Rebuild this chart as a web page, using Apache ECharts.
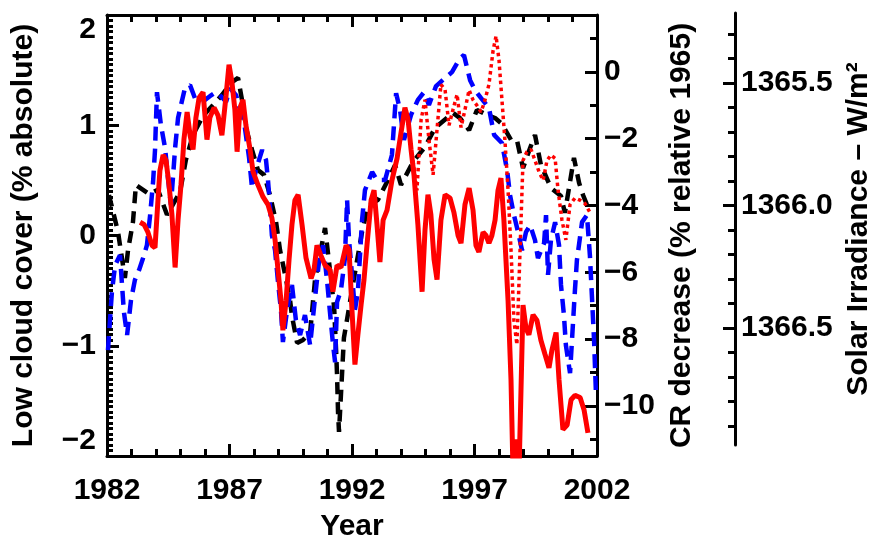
<!DOCTYPE html>
<html><head><meta charset="utf-8">
<script src="https://cdn.jsdelivr.net/npm/echarts@6/dist/echarts.min.js"></script>
<style>html,body{margin:0;padding:0;background:#fff}#c{width:869px;height:536px}</style>
</head><body><div id="c"></div>
<script>
// ---- tick labels ----
const yearTicks = [1982, 1987, 1992, 1997, 2002];
const cloudTicks = [-2, -1, 0, 1, 2];
const crTicks = [0, -2, -4, -6, -8, -10];
const solarTicks = [1365.5, 1366.0, 1366.5];

// ---- low cloud cover (red solid, % absolute) ----
const cloudYears = [1983.35,1983.51,1983.67,1983.84,1983.96,1984.08,1984.16,1984.29,1984.41,1984.53,
1984.65,1984.78,1984.90,1985.02,1985.14,1985.27,1985.39,1985.51,1985.63,1985.76,
1985.92,1986.08,1986.20,1986.37,1986.53,1986.69,1986.86,1986.98,1987.10,1987.22,
1987.31,1987.43,1987.55,1987.67,1987.84,1987.96,1988.16,1988.37,1988.57,1988.73,
1988.86,1988.98,1989.10,1989.18,1989.31,1989.43,1989.55,1989.67,1989.80,1989.96,
1990.12,1990.33,1990.45,1990.57,1990.73,1990.90,1991.10,1991.22,1991.39,1991.55,
1991.76,1991.88,1992.00,1992.12,1992.24,1992.37,1992.49,1992.61,1992.78,1992.90,
1993.02,1993.14,1993.27,1993.43,1993.63,1993.84,1994.00,1994.16,1994.29,1994.41,
1994.53,1994.69,1994.86,1994.98,1995.10,1995.22,1995.35,1995.47,1995.63,1995.80,
1996.00,1996.16,1996.33,1996.45,1996.61,1996.78,1996.94,1997.06,1997.18,1997.35,
1997.47,1997.59,1997.71,1997.84,1997.96,1998.08,1998.20,1998.37,1998.49,1998.57,
1998.69,1998.82,1998.98,1999.10,1999.22,1999.39,1999.55,1999.71,1999.88,2000.04,
2000.16,2000.33,2000.45,2000.61,2000.78,2000.94,2001.10,2001.31,2001.47,2001.63];
const cloudValues = [0.12,0.10,0.03,-0.09,-0.11,0.32,0.59,0.73,0.68,0.46,
0.19,-0.29,0.14,0.46,0.87,1.12,0.91,0.78,1.07,1.25,
1.30,0.87,1.07,1.16,1.09,0.91,1.27,1.55,1.39,1.14,
0.76,1.16,1.23,1.00,0.78,0.58,0.46,0.35,0.28,0.16,
-0.04,-0.31,-0.59,-0.86,-0.59,-0.22,0.10,0.32,0.37,0.10,
-0.20,-0.39,-0.31,-0.09,-0.18,-0.27,-0.31,-0.51,-0.27,-0.29,
-0.09,-0.13,-0.68,-1.17,-0.90,-0.63,-0.40,-0.09,0.32,0.41,
0.10,-0.24,0.14,0.23,0.50,0.70,0.93,1.16,1.05,0.78,
0.55,0.10,-0.51,0.05,0.37,0.19,-0.22,-0.40,0.14,0.37,
0.34,0.21,0.00,-0.07,0.28,0.43,0.23,-0.09,-0.15,0.03,
0.00,-0.07,0.00,0.14,0.41,0.52,0.14,-0.59,-1.31,-2.13,
-1.85,-2.13,-0.63,-0.84,-0.90,-0.72,-0.77,-0.95,-1.08,-1.20,
-1.04,-0.88,-1.31,-1.76,-1.72,-1.49,-1.45,-1.47,-1.58,-1.79];

// ---- low cloud cover, corrected (red dotted) ----
const cloudCorrYears = [1994.49,1994.65,1994.82,1994.98,1995.14,1995.31,1995.47,1995.63,1995.80,1995.96,
1996.12,1996.29,1996.45,1996.61,1996.78,1996.94,1997.10,1997.27,1997.43,1997.59,
1997.76,1997.88,1998.00,1998.12,1998.24,1998.37,1998.49,1998.61,1998.73,1998.86,
1998.98,1999.14,1999.31,1999.47,1999.63,1999.80,1999.96,2000.12,2000.29,2000.41,
2000.57,2000.73,2000.90,2001.10,2001.31,2001.51,2001.71];
const cloudCorrValues = [0.68,0.41,1.05,1.23,0.87,0.55,0.96,1.37,1.32,1.00,
1.14,1.28,0.98,1.14,1.32,1.23,1.18,1.12,1.23,1.37,
1.68,1.81,1.59,1.23,0.87,0.41,-0.13,-0.77,-0.99,-0.13,
0.68,0.76,0.78,0.68,0.58,0.50,0.68,0.73,0.70,0.41,
0.14,-0.04,0.28,0.34,0.32,0.29,0.21];

// ---- cosmic ray decrease (blue dashed, % relative 1965) ----
const crYears = [1982.04,1982.20,1982.33,1982.53,1982.69,1982.82,1982.98,1983.14,1983.31,1983.47,
1983.63,1983.76,1983.88,1983.96,1984.00,1984.04,1984.20,1984.37,1984.49,1984.61,
1984.78,1984.90,1985.18,1985.39,1985.59,1985.80,1986.00,1986.20,1986.45,1986.69,
1986.86,1987.02,1987.27,1987.43,1987.63,1987.80,1987.92,1988.08,1988.33,1988.49,
1988.57,1988.65,1988.73,1988.86,1988.98,1989.10,1989.18,1989.35,1989.55,1989.71,
1989.88,1990.08,1990.29,1990.49,1990.65,1990.82,1990.98,1991.10,1991.22,1991.31,
1991.39,1991.55,1991.71,1991.80,1991.88,1992.00,1992.12,1992.24,1992.41,1992.53,
1992.82,1993.02,1993.35,1993.63,1993.80,1993.96,1994.12,1994.41,1994.69,1994.94,
1995.14,1995.43,1995.84,1996.08,1996.41,1996.57,1996.82,1997.02,1997.27,1997.59,
1997.80,1998.12,1998.33,1998.45,1998.61,1998.78,1998.94,1999.10,1999.27,1999.47,
1999.59,1999.84,1999.92,2000.00,2000.12,2000.29,2000.45,2000.53,2000.65,2000.73,
2000.90,2001.10,2001.18,2001.39,2001.59,2001.71,2001.80,2001.88,2001.96];
const crValues = [-8.33,-6.59,-5.79,-5.49,-7.19,-7.88,-6.83,-6.23,-5.93,-5.58,
-5.19,-4.29,-3.30,-2.34,-1.44,-0.61,-1.59,-2.28,-3.18,-3.99,
-2.28,-1.38,-0.49,-0.40,-0.79,-0.90,-0.84,-0.73,-0.61,-0.76,
-0.90,-0.49,-0.70,-1.14,-1.68,-2.58,-3.48,-2.94,-2.34,-2.64,
-3.24,-3.99,-4.89,-5.34,-6.29,-7.13,-8.09,-7.13,-6.38,-7.43,
-7.88,-7.28,-8.18,-6.77,-5.70,-5.19,-6.23,-7.19,-8.12,-8.69,
-6.89,-6.53,-5.58,-3.84,-5.04,-6.08,-7.13,-6.59,-4.44,-3.54,
-3.00,-3.24,-3.24,-2.49,-0.64,-1.14,-2.04,-1.29,-0.84,-0.61,
-0.99,-0.43,-0.16,-0.01,0.41,0.50,-0.25,-0.55,-0.79,-1.08,
-1.89,-2.13,-2.94,-3.69,-4.29,-4.80,-5.34,-4.80,-4.59,-5.04,
-5.58,-5.13,-4.29,-6.08,-5.04,-4.50,-5.19,-6.38,-7.28,-8.18,
-9.02,-6.53,-5.64,-4.50,-4.29,-5.49,-6.83,-8.03,-9.68];

// ---- solar irradiance (black dashed, W/m^2, inverted axis) ----
const solarYears = [1982.08,1982.45,1982.73,1982.86,1983.06,1983.18,1983.71,1984.08,1984.45,1984.98,
1985.22,1985.51,1985.92,1986.33,1986.69,1987.10,1987.35,1987.51,1987.67,1987.92,
1988.16,1988.41,1988.65,1988.90,1989.06,1989.27,1989.47,1989.55,1989.76,1990.00,
1990.29,1990.49,1990.90,1991.10,1991.27,1991.35,1991.39,1991.43,1991.47,1991.67,
1992.12,1992.41,1992.65,1993.06,1993.47,1993.76,1994.00,1994.49,1994.98,1995.39,
1996.12,1996.41,1996.78,1997.10,1997.51,1997.84,1998.12,1998.49,1998.73,1998.98,
1999.27,1999.47,1999.71,2000.12,2000.53,2000.69,2001.06,2001.27,2001.43,2001.67];
const solarValues = [1365.957,1366.108,1366.296,1366.181,1366.067,1365.916,1365.953,1365.936,1366.038,1365.945,
1365.814,1365.712,1365.634,1365.590,1365.549,1365.496,1365.479,1365.569,1365.683,1365.773,
1365.855,1365.875,1365.957,1366.067,1366.181,1366.283,1366.385,1366.451,1366.561,1366.549,
1366.520,1366.304,1366.092,1366.263,1366.414,1366.590,1366.692,1366.843,1366.924,1366.541,
1366.275,1366.108,1366.002,1365.977,1365.896,1365.834,1365.916,1365.822,1365.761,1365.683,
1365.622,1365.643,1365.692,1365.610,1365.630,1365.643,1365.667,1365.732,1365.732,1365.847,
1365.765,1365.712,1365.834,1365.928,1365.961,1366.030,1365.806,1365.908,1365.957,1366.018];

// ---- minor tick positions (axis decoration) ----
const crMinor = [-11, -9, -7, -5, -3, -1, 1];
const solarMinor = [1365.3, 1365.4, 1365.6, 1365.7, 1365.8, 1365.9, 1366.1, 1366.2, 1366.3, 1366.4, 1366.6, 1366.7, 1366.8, 1366.9];

const FONT = { fontFamily: 'Liberation Sans', fontWeight: 'bold', fontSize: 30, color: '#000' };
const minus = v => (v < 0 ? '\u2212' + Math.abs(v) : String(v));
const LINE = { color: '#000', width: 3 };
const TICK = { color: '#000', width: 3 };
const MAJ = 12, MIN = 7;
const NOLINE = { show: false, onZero: false };
const pairs = (xs, ys) => xs.map((x, i) => [x, ys[i]]);
const mainRect = { left: 107, right: 272, top: 15, bottom: 80, containLabel: false, outerBoundsMode: 'none' };
const solarRect = { left: 107, right: 134, top: 13, bottom: 91, containLabel: false, outerBoundsMode: 'none' };

const chart = echarts.init(document.getElementById('c'), null, { renderer: 'canvas' });
chart.setOption({
  animation: false,
  backgroundColor: '#fff',
  grid: [mainRect, solarRect, mainRect, solarRect],
  xAxis: [
    // 0: bottom major with labels
    { gridIndex: 0, type: 'value', position: 'bottom', min: 1982, max: 2002, interval: 5,
      axisLine: { show: true, onZero: false, lineStyle: LINE },
      axisTick: { show: true, inside: true, length: MAJ, lineStyle: TICK },
      axisLabel: Object.assign({ show: true, margin: 20, formatter: v => String(v) }, FONT),
      splitLine: { show: false },
      name: 'Year', nameLocation: 'middle', nameGap: 56, nameTextStyle: FONT },
    // 1: top major
    { gridIndex: 0, type: 'value', position: 'top', min: 1982, max: 2002, interval: 5,
      axisLine: { show: true, onZero: false, lineStyle: LINE },
      axisTick: { show: true, inside: true, length: MAJ, lineStyle: TICK },
      axisLabel: { show: false }, splitLine: { show: false } },
    // 2: solar grid hidden x
    { gridIndex: 1, type: 'value', min: 1982, max: 2007.633, show: false },
    // 3: bottom minor
    { gridIndex: 2, type: 'value', position: 'bottom', min: 1982, max: 2002, interval: 1,
      axisLine: NOLINE, axisTick: { show: true, inside: true, length: MIN, lineStyle: TICK },
      axisLabel: { show: false }, splitLine: { show: false } },
    // 4: top minor
    { gridIndex: 2, type: 'value', position: 'top', min: 1982, max: 2002, interval: 1,
      axisLine: NOLINE, axisTick: { show: true, inside: true, length: MIN, lineStyle: TICK },
      axisLabel: { show: false }, splitLine: { show: false } },
    // 5: solar minor grid hidden x
    { gridIndex: 3, type: 'value', min: 1982, max: 2007.633, show: false }
  ],
  yAxis: [
    // 0: cloud major (left)
    { gridIndex: 0, type: 'value', position: 'left', min: -2, max: 2, interval: 1,
      axisLine: { show: true, onZero: false, lineStyle: LINE },
      axisTick: { show: true, inside: true, length: MAJ, lineStyle: TICK },
      axisLabel: Object.assign({ show: true, margin: 11, formatter: minus,
        verticalAlignMaxLabel: 'top', verticalAlignMinLabel: 'bottom' }, FONT),
      splitLine: { show: false },
      name: 'Low cloud cover (% absolute)', nameLocation: 'middle', nameRotate: 90, nameGap: 68, nameTextStyle: FONT },
    // 1: CR major (right)
    { gridIndex: 0, type: 'value', position: 'right', min: -11.5, max: 1.7,
      axisLine: { show: true, onZero: false, lineStyle: LINE },
      axisTick: { show: true, inside: true, length: MAJ, customValues: crTicks, lineStyle: TICK },
      axisLabel: Object.assign({ show: true, customValues: crTicks, margin: 7, formatter: minus }, FONT),
      splitLine: { show: false },
      name: 'CR decrease (% relative 1965)', nameLocation: 'middle', nameRotate: 90, nameGap: 70, nameTextStyle: FONT },
    // 2: solar major
    { gridIndex: 1, type: 'value', position: 'right', inverse: true, min: 1365.214, max: 1366.978,
      axisLine: { show: true, onZero: false, lineStyle: LINE },
      axisTick: { show: true, inside: true, length: MAJ, customValues: solarTicks, lineStyle: TICK },
      axisLabel: Object.assign({ show: true, customValues: solarTicks, margin: 6, formatter: v => v.toFixed(1) }, FONT),
      splitLine: { show: false },
      name: 'Solar Irradiance \u2013 W/m\u00B2', nameLocation: 'middle', nameRotate: 90, nameGap: 96, nameTextStyle: FONT },
    // 3: cloud minor (left)
    { gridIndex: 2, type: 'value', position: 'left', min: -2, max: 2, interval: 0.05,
      axisLine: NOLINE, axisTick: { show: true, inside: true, length: 6, lineStyle: TICK },
      axisLabel: { show: false }, splitLine: { show: false } },
    // 4: CR minor (right)
    { gridIndex: 2, type: 'value', position: 'right', min: -11.5, max: 1.7,
      axisLine: NOLINE, axisTick: { show: true, inside: true, length: MIN, customValues: crMinor, lineStyle: TICK },
      axisLabel: { show: false, customValues: crMinor }, splitLine: { show: false } },
    // 5: solar minor
    { gridIndex: 3, type: 'value', position: 'right', inverse: true, min: 1365.214, max: 1366.978,
      axisLine: NOLINE, axisTick: { show: true, inside: true, length: MIN, customValues: solarMinor, lineStyle: TICK },
      axisLabel: { show: false, customValues: solarMinor }, splitLine: { show: false } }
  ],
  series: [
    { type: 'line', xAxisIndex: 2, yAxisIndex: 2, data: pairs(solarYears, solarValues), showSymbol: false,
      lineStyle: { color: '#000', width: 4.5, type: [12, 8], cap: 'butt' }, z: 2 },
    { type: 'line', xAxisIndex: 0, yAxisIndex: 1, data: pairs(crYears, crValues), showSymbol: false,
      lineStyle: { color: '#0000ff', width: 4.5, type: [14, 8], cap: 'butt' }, z: 3 },
    { type: 'line', xAxisIndex: 0, yAxisIndex: 0, data: pairs(cloudCorrYears, cloudCorrValues), showSymbol: false,
      lineStyle: { color: '#ff0000', width: 3.5, type: [3.5, 3.5], cap: 'butt' }, z: 4 },
    { type: 'line', xAxisIndex: 0, yAxisIndex: 0, data: pairs(cloudYears, cloudValues), showSymbol: false,
      lineStyle: { color: '#ff0000', width: 5, type: 'solid' }, z: 5 }
  ]
});
</script></body></html>
